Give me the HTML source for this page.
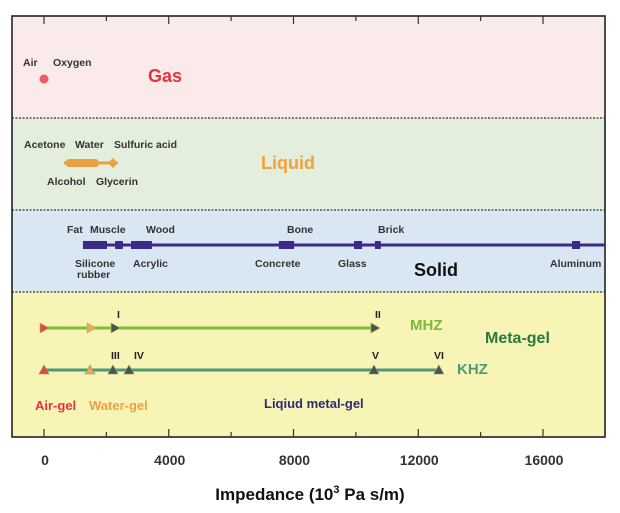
<!DOCTYPE html>
<html><head><meta charset="utf-8"><style>
body{margin:0;background:#fff;}
svg text{font-family:"Liberation Sans",sans-serif;font-weight:bold;}
</style></head><body>
<svg id="c" width="620" height="508" xmlns="http://www.w3.org/2000/svg"></svg>
<script>
const xTicks=[0,4000,8000,12000,16000];
const minorTicks=[0,2000,4000,6000,8000,10000,12000,14000,16000,18000];
const gasValues=[0];
const liquidThick=[640,1700];
const liquidEnd=[2370];
const solidRects=[[1250,2020],[2280,2530],[2790,3460],[7530,8020],[9940,10200],[10610,10800],[16930,17190]];
const mhzMarkers=[0,1510,2280,10610];
const khzMarkers=[0,1475,2210,2725,10580,12660];
const markerColors=['#e8463c','#f0a850','#505050','#505050','#505050','#505050'];

const NS='http://www.w3.org/2000/svg';
const svg=document.getElementById('c');
const L=12,R=605,T=16,B=437;
function x(v){return 44+v*(543-44)/16000;}
function el(tag,attrs,parent){const e=document.createElementNS(NS,tag);for(const k in attrs)e.setAttribute(k,attrs[k]);(parent||svg).appendChild(e);return e;}
function txt(s,px,py,size,fill,anchor){const t=el('text',{x:px,y:py,'font-size':size,fill:fill,'text-anchor':anchor||'start'});t.textContent=s;return t;}

const bands=[[T,118,'#fbeaea','gas-band'],[118,210,'#e4eedc','liquid-band'],[210,292,'#d9e7f4','solid-band'],[292,B,'#f8f4b6','meta-gel-band']];
bands.forEach(b=>{const r=el('rect',{x:L,y:b[0],width:R-L,height:b[1]-b[0],fill:b[2]});

});
[118,210,292].forEach(y=>{const l=el('line',{x1:L,x2:R,y1:y,y2:y,stroke:'#333','stroke-width':1.2,'stroke-dasharray':'2,1.5'});

});
const fr=el('rect',{x:L,y:T,width:R-L,height:B-T,fill:'none',stroke:'#222','stroke-width':1.6});



minorTicks.forEach((v,i)=>{const xx=x(v);if(xx>R)return;const len=(v%4000===0)?8:5;
const a=el('line',{x1:xx,x2:xx,y1:T,y2:T+len,stroke:'#333','stroke-width':1.2});


const b=el('line',{x1:xx,x2:xx,y1:B,y2:B-len,stroke:'#333','stroke-width':1.2});

});
xTicks.forEach(v=>{const t=txt(String(v),x(v)+1,465,14,'#333','middle');

});
const ttl=el('text',{x:310,y:500,'font-size':17,fill:'#111','text-anchor':'middle'});
ttl.innerHTML='Impedance (10<tspan dy="-7" font-size="11">3</tspan><tspan dy="7"> Pa  s/m)</tspan>';



gasValues.forEach(v=>{const c=el('circle',{cx:x(v),cy:79,r:4.5,fill:'#ee5a64'});

});
[['Air',23,66],['Oxygen',53,66]].forEach(a=>{const t=txt(a[0],a[1],a[2],10.5,'#333');});
let g=txt('Gas',148,82,18,'#e8323c');

const ly=163;
let ll=el('line',{x1:x(liquidThick[0]),x2:x(liquidEnd[0]),y1:ly,y2:ly,stroke:'#e8a040','stroke-width':3});


const x0=x(liquidThick[0]),x1=x(liquidThick[1]);
let lp=el('polygon',{points:`${x0},${ly} ${x0+4},${ly-4} ${x1},${ly-4} ${x1+3},${ly} ${x1},${ly+4} ${x0+4},${ly+4}`,fill:'#e8a040'});


const xe=x(liquidEnd[0]);
let ld=el('polygon',{points:`${xe},${ly} ${xe-5},${ly-5} ${xe-10},${ly} ${xe-5},${ly+5}`,fill:'#e8a040'});


[['Acetone',24,148],['Water',75,148],['Sulfuric acid',114,148],['Alcohol',47,185],['Glycerin',96,185]].forEach(a=>{const t=txt(a[0],a[1],a[2],10.5,'#333');});
g=txt('Liquid',261,169,18,'#f0a040');

const sy=245;
let sl=el('line',{x1:x(solidRects[0][0]),x2:R,y1:sy,y2:sy,stroke:'#3c2a86','stroke-width':3});


solidRects.forEach(r=>{const e=el('rect',{x:x(r[0]),y:sy-4,width:x(r[1])-x(r[0]),height:8,fill:'#3c2a86'});

});
[['Fat',67,233],['Muscle',90,233],['Wood',146,233],['Bone',287,233],['Brick',378,233],['Silicone',75,267],['rubber',77,278],['Acrylic',133,267],['Concrete',255,267],['Glass',338,267],['Aluminum',550,267]].forEach(a=>{const t=txt(a[0],a[1],a[2],10.5,'#333');});
g=txt('Solid',414,276,18,'#111');

const my=328;
let ml=el('line',{x1:x(mhzMarkers[0]),x2:x(mhzMarkers[mhzMarkers.length-1]),y1:my,y2:my,stroke:'#7cc03c','stroke-width':3});


mhzMarkers.forEach((v,i)=>{const xx=x(v);const c=markerColors[i];
const p=el('polygon',{points:`${xx-4},${my-5} ${xx+5},${my} ${xx-4},${my+5}`,fill:c,stroke:'#9ab850','stroke-width':0.6});

});
const ky=370;
let kl=el('line',{x1:x(khzMarkers[0]),x2:x(khzMarkers[khzMarkers.length-1]),y1:ky,y2:ky,stroke:'#4a9a78','stroke-width':3});


khzMarkers.forEach((v,i)=>{const xx=x(v);const c=markerColors[i];
const p=el('polygon',{points:`${xx-5},${ky+4} ${xx},${ky-5} ${xx+5},${ky+4}`,fill:c,stroke:'#7a9a70','stroke-width':0.6});

});
[['I',117,318],['II',375,318],['III',111,359],['IV',134,359],['V',372,359],['VI',434,359]].forEach(a=>{const t=txt(a[0],a[1],a[2],10.5,'#222');});
g=txt('MHZ',410,330,15,'#7cb83c');
g=txt('Meta-gel',485,343,16,'#2a7a40');
g=txt('KHZ',457,374,15,'#4a9a7a');
g=txt('Air-gel',35,410,13,'#e8323c');
g=txt('Water-gel',89,410,13,'#f0a040');
g=txt('Liqiud metal-gel',264,408,13,'#2e2a78');
</script>
</body></html>
